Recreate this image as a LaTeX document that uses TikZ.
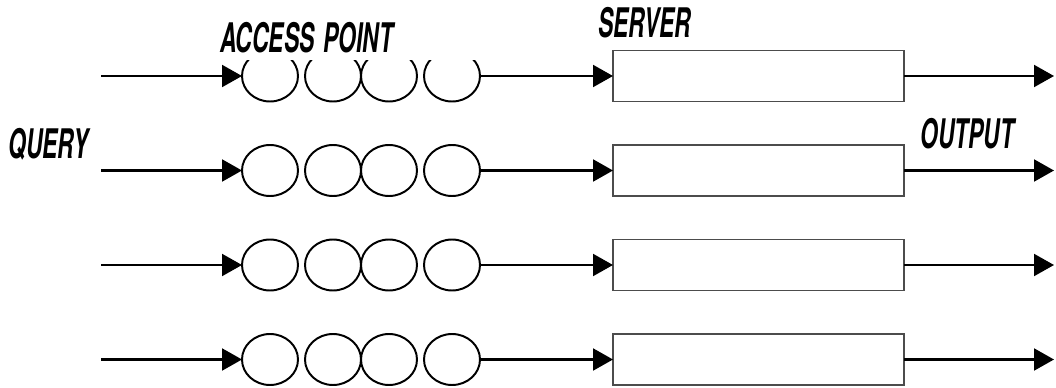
\documentclass[tikz,border=0pt]{standalone}
\usepackage{fontspec}
\usepackage{tikz}
\usetikzlibrary{positioning, arrows.meta, shapes.geometric}
\newfontfamily\tagfont[FakeStretch=0.56]{TeX Gyre Heros}

\begin{document}
\begin{tikzpicture}[buffer/.style={draw, ellipse, minimum width=1.4cm, minimum height=1.275cm, inner sep=0, outer sep=0, line width=1.4pt},
		server/.style={draw=black!70, rectangle, minimum width=7.275cm, minimum height=1.275cm, inner sep=0, outer sep=0, line width=1pt},
		flow/.style={line width=1.5pt, -{Triangle[length=0.5cm, width=0.55cm]}},
		tag/.style={font=\tagfont\bfseries\itshape\fontsize{29}{29}\selectfont, inner sep=0}]

		\useasboundingbox (0,0) rectangle (26.4,-9.7);

		\coordinate (in1) at (2.525,-1.9);
		\node[buffer, right = 3.525 of in1] (1-1) {};
		\node[buffer, right = .175 of 1-1] (1-2) {};
		\node[buffer, right = 0 of 1-2] (1-3) {};
		\node[buffer, right = .175 of 1-3] (1-4) {};
		\node[server, right = 3.325 of 1-4] (s1) {};
		\coordinate[right = 3.75 of s1] (out1);

		\draw[flow] (in1) -- (1-1);
		\draw[flow] (1-4) -- (s1);
		\draw[flow] (s1) -- (out1);

		\coordinate[below = 2.3625 of in1] (in2);
		\node[buffer, right = 3.525 of in2] (2-1) {};
		\node[buffer, right = .175 of 2-1] (2-2) {};
		\node[buffer, right = 0 of 2-2] (2-3) {};
		\node[buffer, right = .175 of 2-3] (2-4) {};
		\node[server, right = 3.325 of 2-4] (s2) {};
		\coordinate[right = 3.75 of s2] (out2);

		\draw[flow] (in2) -- (2-1);
		\draw[flow] (2-4) -- (s2);
		\draw[flow] (s2) -- (out2);

		\coordinate[below = 2.3625 of in2] (in3);
		\node[buffer, right = 3.525 of in3] (3-1) {};
		\node[buffer, right = .175 of 3-1] (3-2) {};
		\node[buffer, right = 0 of 3-2] (3-3) {};
		\node[buffer, right = .175 of 3-3] (3-4) {};
		\node[server, right = 3.325 of 3-4] (s3) {};
		\coordinate[right = 3.75 of s3] (out3);

		\draw[flow] (in3) -- (3-1);
		\draw[flow] (3-4) -- (s3);
		\draw[flow] (s3) -- (out3);

		\coordinate[below = 2.3625 of in3] (in4);
		\node[buffer, right = 3.525 of in4] (4-1) {};
		\node[buffer, right = .175 of 4-1] (4-2) {};
		\node[buffer, right = 0 of 4-2] (4-3) {};
		\node[buffer, right = .175 of 4-3] (4-4) {};
		\node[server, right = 3.325 of 4-4] (s4) {};
		\coordinate[right = 3.75 of s4] (out4);

		\draw[flow] (in4) -- (4-1);
		\draw[flow] (4-4) -- (s4);
		\draw[flow] (s4) -- (out4);

		\node[tag, fill=white, text width=6.5cm, align=left, inner ysep=.175cm, anchor=south west] (ap) at (5.5,-1.5) {ACCESS\hspace{-.12em} POINT};
		\node[tag, anchor=base west] (srv) at (14.95,-0.95) {SERVER};
		\node[tag, anchor=base west] (qry) at (0.2,-3.95) {QUERY};
		\node[tag, anchor=base west] (outl) at (23.0,-3.7) {OUTPUT};
\end{tikzpicture}
\end{document}
